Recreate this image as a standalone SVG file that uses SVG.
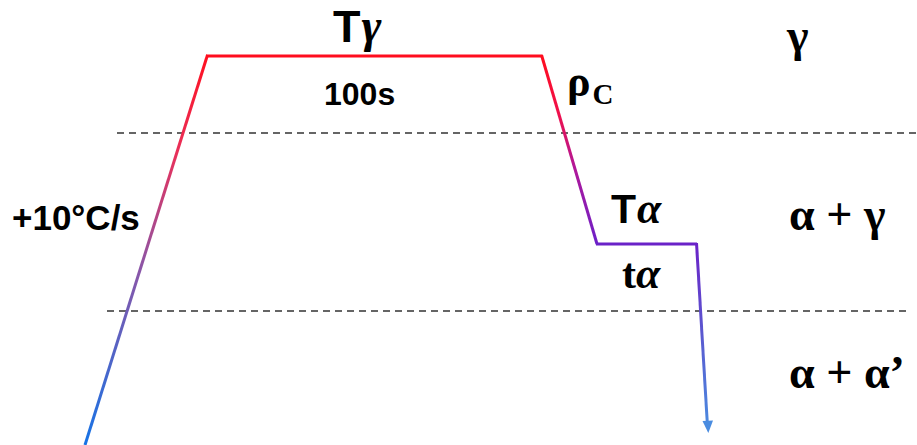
<svg xmlns="http://www.w3.org/2000/svg" width="917" height="445" viewBox="0 0 917 445">
<style>
.sans{font-family:"Liberation Sans",Arial,sans-serif;font-weight:bold;fill:#000}
.serif{font-family:"Liberation Serif","Times New Roman",serif;font-weight:bold;fill:#000}
.it{font-style:italic}
.dash{stroke:#333;stroke-width:1.6;stroke-dasharray:7 5;fill:none}
.seg{fill:none;stroke-width:3;stroke-linecap:butt;stroke-linejoin:miter}
</style>
<defs>
<linearGradient id="gLeft" gradientUnits="userSpaceOnUse" x1="85" y1="445" x2="207" y2="56">
<stop offset="0" stop-color="#1673e6"/>
<stop offset="0.45" stop-color="#8a56a8"/>
<stop offset="0.75" stop-color="#e8305a"/>
<stop offset="1" stop-color="#ff1020"/>
</linearGradient>
<linearGradient id="gDown" gradientUnits="userSpaceOnUse" x1="542" y1="56" x2="597" y2="244">
<stop offset="0" stop-color="#ff0d1e"/>
<stop offset="0.3" stop-color="#f0104a"/>
<stop offset="0.6" stop-color="#b0189a"/>
<stop offset="1" stop-color="#6c1fc8"/>
</linearGradient>
<linearGradient id="gFinal" gradientUnits="userSpaceOnUse" x1="696" y1="244" x2="708" y2="430">
<stop offset="0" stop-color="#6a22c8"/>
<stop offset="0.5" stop-color="#5a5ad0"/>
<stop offset="1" stop-color="#4a8ce0"/>
</linearGradient>
</defs>

<g id="phase-boundaries">
<line class="dash" x1="117" y1="133" x2="917" y2="133"/>
<line class="dash" x1="107" y1="311" x2="906" y2="311"/>
</g>

<g id="connectors">
<line class="seg" x1="85" y1="445" x2="207.5" y2="55" stroke="url(#gLeft)"/>
<polyline class="seg" points="206,56 542,56" stroke="#ff0d1e"/>
<line class="seg" x1="541.5" y1="55" x2="597" y2="244" stroke="url(#gDown)"/>
<polyline class="seg" points="596,244 697,244" stroke="#6a22c8"/>
<line class="seg" x1="696.5" y1="243" x2="707.3" y2="423" stroke="url(#gFinal)"/>
<polygon points="702.5,421 713,420.5 708.3,433" fill="#4a8ce0"/>
</g>

<g id="label-Tgamma">
<text x="333" y="42" class="sans" font-size="45">T<tspan class="serif it" font-weight="normal" font-size="48" dx="1">γ</tspan></text>
</g>
<g id="label-100s">
<text x="324" y="105" class="sans" font-size="32">100s</text>
</g>
<g id="label-rhoC">
<text x="567" y="96" class="serif" font-size="44">ρ<tspan font-size="29" y="104" dx="2">C</tspan></text>
</g>
<g id="label-Talpha">
<text x="611" y="223" class="sans" font-size="41">T<tspan class="serif it" font-size="44" dx="1">α</tspan></text>
</g>
<g id="label-talpha">
<text x="622" y="288" class="serif" font-size="42">t<tspan class="it" font-size="44">α</tspan></text>
</g>
<g id="label-rate">
<text x="12" y="230" class="sans" font-size="35">+10°C/s</text>
</g>
<g id="label-gamma">
<text x="787" y="51" class="serif" font-size="46">γ</text>
</g>
<g id="label-alpha-gamma">
<text x="789" y="230" class="serif" font-size="46">α + γ</text>
</g>
<g id="label-alpha-alphaprime">
<text x="789" y="388" class="serif" font-size="46">α + α’</text>
</g>
</svg>
